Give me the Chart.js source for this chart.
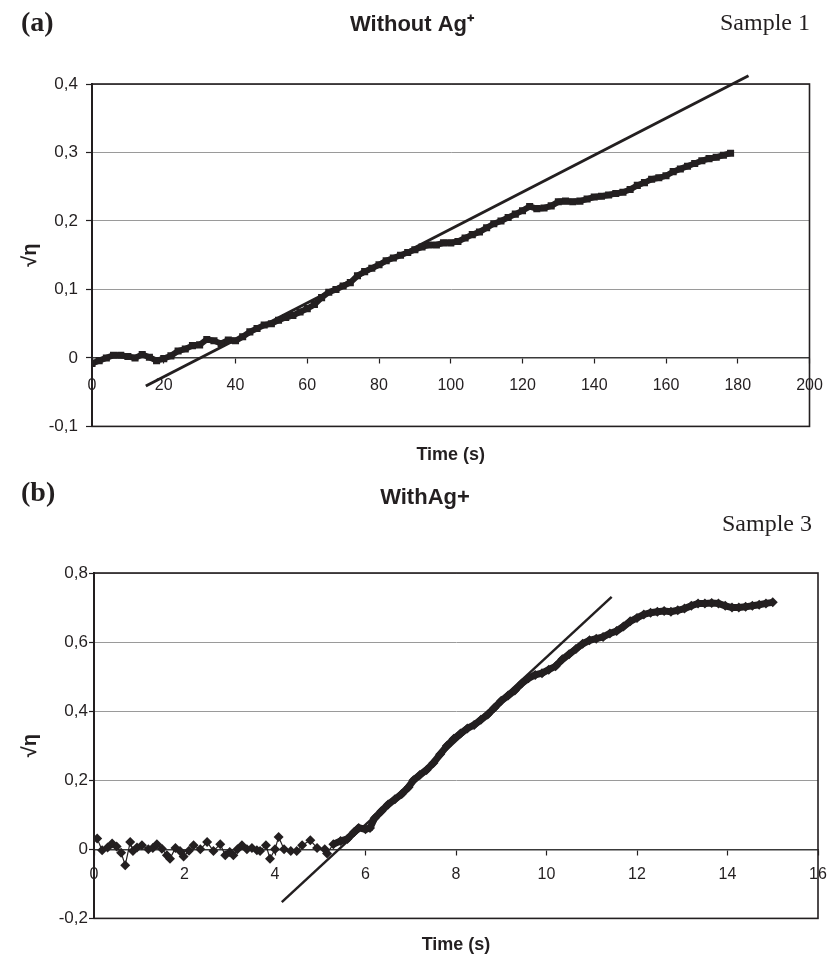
<!DOCTYPE html>
<html>
<head>
<meta charset="utf-8">
<script src="https://cdn.jsdelivr.net/npm/chart.js@4.4.0/dist/chart.umd.min.js"></script>
<style>
  html, body { margin: 0; padding: 0; background: #fff; }
  #fig { position: relative; width: 829px; height: 959px; overflow: hidden; background: #fff; }
  #fig canvas { position: absolute; left: 0; }
  .tag { position: absolute; font-family: "Liberation Serif", "Times New Roman", serif; color: #231f20; line-height: 1; white-space: nowrap; }
</style>
</head>
<body>
<div id="fig">
  <canvas id="panelA" width="829" height="470" style="top:0"></canvas>
  <canvas id="panelB" width="829" height="489" style="top:470px"></canvas>
  <div class="tag" style="left:21px;top:8px;font-weight:bold;font-size:28px">(a)</div>
  <div class="tag" style="right:19px;top:10px;font-size:24px">Sample 1</div>
  <div class="tag" style="left:21px;top:478px;font-weight:bold;font-size:28px">(b)</div>
  <div class="tag" style="right:17px;top:511px;font-size:24px">Sample 3</div>
</div>
<script>
// ---------- Panel (a): sample 1, without Ag+ ----------
const timeA = [
  0, 2, 4, 6, 8, 10, 12, 14, 16, 18, 20, 22, 24, 26, 28, 30, 32, 34, 36, 38,
  40, 42, 44, 46, 48, 50, 52, 54, 56, 58, 60, 62, 64, 66, 68, 70, 72, 74, 76, 78,
  80, 82, 84, 86, 88, 90, 92, 94, 96, 98, 100, 102, 104, 106, 108, 110, 112, 114, 116, 118,
  120, 122, 124, 126, 128, 130, 132, 134, 136, 138, 140, 142, 144, 146, 148, 150, 152, 154, 156, 158,
  160, 162, 164, 166, 168, 170, 172, 174, 176, 178
];
const sqrtEtaA = [
  -0.008, -0.004, 0.000, 0.004, 0.004, 0.002, 0.000, 0.005, 0.001, -0.004,
  -0.001, 0.003, 0.010, 0.013, 0.018, 0.019, 0.027, 0.025, 0.021, 0.026,
  0.025, 0.031, 0.038, 0.043, 0.048, 0.050, 0.055, 0.059, 0.062, 0.067,
  0.072, 0.078, 0.088, 0.096, 0.100, 0.105, 0.110, 0.120, 0.126, 0.131,
  0.136, 0.142, 0.146, 0.150, 0.154, 0.158, 0.162, 0.165, 0.165, 0.168,
  0.168, 0.170, 0.175, 0.180, 0.184, 0.190, 0.196, 0.200, 0.205, 0.210,
  0.215, 0.221, 0.218, 0.219, 0.222, 0.228, 0.229, 0.228, 0.229, 0.232,
  0.235, 0.236, 0.238, 0.240, 0.242, 0.246, 0.252, 0.256, 0.261, 0.263,
  0.266, 0.272, 0.276, 0.280, 0.284, 0.288, 0.291, 0.293, 0.296, 0.299
];
const fitTimeA = [15, 183];
const fitSqrtEtaA = [-0.041, 0.412];
const xTicksA = [0, 20, 40, 60, 80, 100, 120, 140, 160, 180, 200];
const yTicksA = [-0.1, 0, 0.1, 0.2, 0.3, 0.4];

// ---------- Panel (b): sample 3, with Ag+ ----------
const timeB = [
  0.07, 0.18, 0.30, 0.40, 0.50, 0.60, 0.69, 0.80, 0.86, 0.95,
  1.06, 1.20, 1.30, 1.39, 1.50, 1.61, 1.68, 1.80, 1.90, 1.98,
  2.10, 2.20, 2.35, 2.50, 2.64, 2.79, 2.90, 3.00, 3.08, 3.17,
  3.27, 3.38, 3.49, 3.60, 3.67, 3.80, 3.89, 4.00, 4.08, 4.20,
  4.35, 4.48, 4.60, 4.78, 4.93, 5.10, 5.15,
  5.29, 5.45, 5.60, 5.75, 5.85, 6.00, 6.10, 6.20, 6.35, 6.50,
  6.65, 6.80, 6.95, 7.06, 7.20, 7.35, 7.50, 7.65, 7.80, 7.95,
  8.10, 8.25, 8.40, 8.55, 8.70, 8.85, 9.00, 9.15, 9.30, 9.45,
  9.60, 9.75, 9.90, 10.05, 10.20, 10.35, 10.50, 10.65, 10.80, 10.95,
  11.10, 11.25, 11.40, 11.55, 11.70, 11.85, 12.00, 12.15, 12.30, 12.45,
  12.60, 12.75, 12.90, 13.05, 13.20, 13.35, 13.50, 13.65, 13.80, 13.95,
  14.10, 14.25, 14.40, 14.55, 14.70, 14.85, 15.00
];
const sqrtEtaB = [
  0.031, -0.003, 0.005, 0.017, 0.008, -0.010, -0.046, 0.021, -0.005, 0.005,
  0.012, 0.000, 0.004, 0.015, 0.002, -0.017, -0.027, 0.004, -0.005, -0.021,
  -0.004, 0.012, 0.000, 0.021, -0.005, 0.015, -0.017, -0.008, -0.017, 0.000,
  0.012, 0.000, 0.004, -0.003, -0.005, 0.012, -0.027, 0.000, 0.036, 0.000,
  -0.005, -0.005, 0.012, 0.026, 0.004, 0.000, -0.012,
  0.015, 0.024, 0.030, 0.050, 0.062, 0.058, 0.062, 0.090, 0.110, 0.130,
  0.145, 0.160, 0.180, 0.200, 0.215, 0.230, 0.250, 0.275, 0.300, 0.320,
  0.335, 0.350, 0.360, 0.375, 0.390, 0.410, 0.430, 0.445, 0.460, 0.480,
  0.495, 0.505, 0.510, 0.520, 0.530, 0.550, 0.565, 0.580, 0.595, 0.605,
  0.610, 0.615, 0.625, 0.632, 0.645, 0.660, 0.670, 0.680, 0.685, 0.688,
  0.690, 0.688, 0.692, 0.697, 0.705, 0.712, 0.712, 0.713, 0.712, 0.705,
  0.700, 0.700, 0.702, 0.705, 0.708, 0.712, 0.715
];
const fitTimeB = [4.15, 11.44];
const fitSqrtEtaB = [-0.153, 0.731];
const xTicksB = [0, 2, 4, 6, 8, 10, 12, 14, 16];
const yTicksB = [-0.2, 0, 0.2, 0.4, 0.6, 0.8];

// ---------- shared styling ----------
const INK = '#231f20';
const SANS = '"Liberation Sans", Arial, Helvetica, sans-serif';

const toPoints = (xs, ys) => xs.map((x, i) => ({ x, y: ys[i] }));
const commaLabel = v => (v === 0 ? '0' : String(v).replace('.', ','));

// Dark rectangle around the plotting area
const plotFrame = {
  id: 'plotFrame',
  beforeDatasetsDraw(chart) {
    const { ctx, chartArea: a } = chart;
    ctx.save();
    ctx.strokeStyle = INK;
    ctx.lineWidth = 1.6;
    ctx.strokeRect(a.left, a.top, a.right - a.left, a.bottom - a.top);
    ctx.restore();
  }
};

function makePanel(id, p) {
  return new Chart(document.getElementById(id), {
    type: 'line',
    data: { datasets: p.datasets },
    options: {
      responsive: false,
      animation: false,
      devicePixelRatio: 1,
      layout: { padding: { left: p.padLeft, right: p.padRight, top: 0, bottom: 0 } },
      plugins: {
        legend: { display: false },
        tooltip: { enabled: false },
        title: {
          display: true,
          text: p.title,
          color: INK,
          font: { family: SANS, size: 22, weight: 'bold' },
          padding: p.titlePad
        },
        subtitle: {
          display: true,
          position: 'bottom',
          fullSize: false,
          text: 'Time (s)',
          color: INK,
          font: { family: SANS, size: 18, weight: 'bold' },
          padding: p.xTitlePad
        }
      },
      scales: {
        x: {
          type: 'linear',
          position: { y: 0 },
          min: p.xTicks[0],
          max: p.xTicks[p.xTicks.length - 1],
          afterBuildTicks: s => { s.ticks = p.xTicks.map(v => ({ value: v })); },
          afterFit: s => { s.height = 0; s.paddingLeft = 0; s.paddingRight = 0; },
          ticks: {
            color: INK,
            font: { family: SANS, size: 16 },
            padding: p.xLabelPad,
            maxRotation: 0,
            autoSkip: false,
            callback: v => String(v)
          },
          grid: { drawOnChartArea: false, drawTicks: true, tickLength: 5, tickColor: INK, tickWidth: 1.2 },
          border: { display: true, color: '#3a3a3a', width: 1.5 }
        },
        y: {
          type: 'linear',
          position: 'left',
          min: p.yTicks[0],
          max: p.yTicks[p.yTicks.length - 1],
          afterBuildTicks: s => { s.ticks = p.yTicks.map(v => ({ value: v })); },
          afterFit: s => { s.width = p.yWidth; },
          ticks: {
            color: INK,
            font: { family: SANS, size: 17 },
            padding: p.yLabelPad,
            autoSkip: false,
            callback: v => commaLabel(v)
          },
          grid: { color: '#9a9a9a', lineWidth: 1, drawTicks: true, tickLength: p.yTickLen, tickColor: INK, tickWidth: 1.2 },
          border: { display: true, color: INK, width: 2 },
          title: {
            display: true,
            text: '√η',
            color: INK,
            font: { family: SANS, size: 20, weight: 'bold' },
            padding: { top: p.yTitleOffset, bottom: 0 }
          }
        }
      }
    },
    plugins: [plotFrame]
  });
}

// Panel (a)
makePanel('panelA', {
  title: 'Without Ag\u207A',
  titlePad: { top: 11.8, bottom: 45.8 },
  xTitlePad: { top: 18, bottom: 4 },
  padLeft: 14.5,
  padRight: 19.5,
  yWidth: 77.5,
  yTitleOffset: 3.5,
  yTickLen: 6,
  yLabelPad: 8,
  xLabelPad: 13,
  xTicks: xTicksA,
  yTicks: yTicksA,
  datasets: [
    {
      data: toPoints(timeA, sqrtEtaA),
      borderColor: INK,
      backgroundColor: INK,
      borderWidth: 6,
      pointStyle: 'rect',
      pointRadius: 5,
      pointBorderWidth: 0,
      tension: 0
    },
    {
      data: toPoints(fitTimeA, fitSqrtEtaA),
      borderColor: INK,
      borderWidth: 3,
      pointRadius: 0,
      clip: false
    }
  ]
});

// Panel (b)
makePanel('panelB', {
  title: 'WithAg+',
  titlePad: { top: 14.8, bottom: 61.8 },
  xTitlePad: { top: 16, bottom: 3 },
  padLeft: 32,
  padRight: 11,
  yWidth: 62,
  yTitleOffset: -14,
  yTickLen: 5,
  yLabelPad: 1,
  xLabelPad: 11,
  xTicks: xTicksB,
  yTicks: yTicksB,
  datasets: [
    {
      data: toPoints(timeB, sqrtEtaB),
      borderColor: INK,
      backgroundColor: INK,
      borderWidth: 1,
      segment: { borderWidth: c => (c.p0.parsed.x >= 5.25 ? 7 : 1.2) },
      pointStyle: 'rectRot',
      pointRadius: 5,
      pointBorderWidth: 0,
      tension: 0
    },
    {
      data: toPoints(fitTimeB, fitSqrtEtaB),
      borderColor: INK,
      borderWidth: 2.5,
      pointRadius: 0,
      clip: false
    }
  ]
});
</script>
</body>
</html>
